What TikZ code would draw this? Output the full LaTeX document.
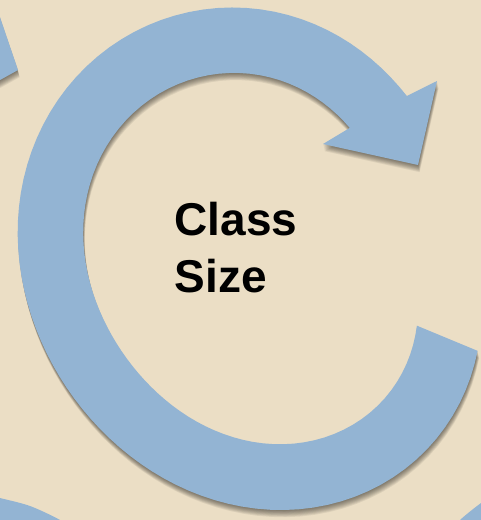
\documentclass[tikz,border=0pt]{standalone}
\usepackage{fontspec}
\setmainfont{Liberation Sans}
\definecolor{bgbeige}{RGB}{235,222,197}
\definecolor{arrowblue}{RGB}{147,180,211}
\tikzset{
  declare function={
    gA(\t)=(\t-347.6)/53.4;
    gB(\t)=(\t+12.4)/53.4;
    rout(\t)=247.5+13*cos(2*(\t-55))-29*(exp(-min(gA(\t)*gA(\t),15))+exp(-min(gB(\t)*gB(\t),15)));
  },
  arrowfill/.style={fill=arrowblue},
  shadowlayer/.style={fill=black, fill opacity=0.065},
  mainarrowpath/.style={insert path={
    plot[domain=23.3:311.8, samples=90, variable=\t] (\t:{rout(\t)})
    -- (175,-177) -- (156,-93) -- (61,-114)
    -- plot[domain=304:23.6, samples=90, variable=\t] (\t:{rout(\t)-66})
    -- cycle}},
  topleftpath/.style={insert path={(-12,-18) -- (18,70) -- (-18,90) -- cycle}},
  botleftpath/.style={insert path={plot[smooth] coordinates {(-20,493) (0,498) (30,506) (60,520) (75,532)} -- (-20,532) -- cycle}},
  botrightpath/.style={insert path={plot[smooth] coordinates {(450,530) (460,520) (470,511.5) (481,503) (492,495)} -- (492,530) -- cycle}},
  labeltext/.style={font=\bfseries\fontsize{46}{56}\selectfont, inner sep=0pt, anchor=base west, text=black}
}
\newcommand\drawshadowed[1]{%
  \foreach \k in {1,...,8}{\path[shadowlayer, shift={(0.2*\k,0.9*\k)}, #1];}%
  \path[arrowfill, #1];}
\begin{document}
\begin{tikzpicture}[x=1pt,y=-1pt]
\useasboundingbox (0,0) rectangle (481,520);
\clip (0,0) rectangle (481,520);
\fill[bgbeige] (0,0) rectangle (481,520);
\drawshadowed{topleftpath}
\drawshadowed{botleftpath}
\drawshadowed{botrightpath}
\begin{scope}[shift={(262,258)}]
\drawshadowed{mainarrowpath}
\end{scope}
\node[labeltext] (classword) at (174.5,235.5) {Class};
\node[labeltext] (sizeword) at (174.5,292) {Size};
\end{tikzpicture}
\end{document}
